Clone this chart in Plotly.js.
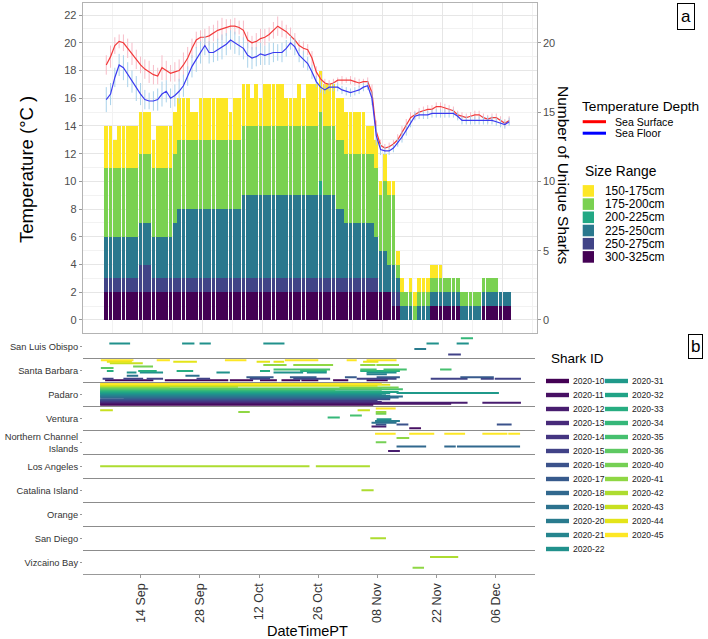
<!DOCTYPE html>
<html>
<head>
<meta charset="utf-8">
<script src="https://cdn.plot.ly/plotly-3.0.1.min.js"></script>
<style>
  html, body { margin: 0; padding: 0; background: #fff; }
  #chart { width: 708px; height: 639px; }
</style>
</head>
<body>
<div id="chart"></div>
<script>
// ---------- panel a: daily unique sharks by size class (Sep 5 .. Dec 8) ----------
const firstDay = "2020-09-05";
const sizeRanges = ["300-325cm", "250-275cm", "225-250cm", "200-225cm", "175-200cm", "150-175cm"];
const sizeColors = ["#440154", "#414487", "#2a788e", "#22a884", "#7ad151", "#fde725"];

const count300 = [2,2,2,2,2,2,2,2,2,2, 2,2,2,2,2,2,2,2,2,2, 2,2,2,2,2,2,2,2,2,2, 2,2,2,2,2,2,2,2,2,2,
                  2,2,2,2,2,2,2,2,2,2, 2,2,2,2,2,2,2,2,2,2, 2,2,2,2,2,2,2,1,1,0, 0,0,0,0,0,0,1,1,1,1,
                  1,1,1,0,0,0,0,0,1,1, 1,1,1,1,1];
const count250 = [1,1,1,1,1,1,1,1,2,2, 2,1,1,1,1,1,1,1,1,1, 1,1,1,1,1,1,1,1,1,1, 1,1,1,1,1,1,1,1,1,1,
                  1,1,1,1,1,1,1,1,1,1, 1,1,1,1,1,1,1,1,1,1, 1,1,1,1,0,0,0,1,1,0, 0,0,0,0,0,0,0,0,0,0,
                  0,0,0,0,0,0,0,0,0,0, 0,0,0,0,0];
const count225 = [3,3,3,3,3,3,3,3,3,3, 3,3,3,3,3,3,4,5,5,5, 5,5,5,5,5,5,5,5,5,5, 5,5,6,6,6,6,6,6,6,6,
                  6,6,6,6,6,6,6,6,6,6, 6,6,6,6,5,5,4,4,4,4, 4,4,4,3,3,3,2,2,1,1, 1,1,0,1,1,1,1,1,1,1,
                  1,1,1,1,1,1,1,1,1,1, 1,1,1,1,1];
const count200 = [0,0,0,0,0,0,0,0,0,0, 0,0,0,0,0,0,0,0,0,0, 0,0,0,0,0,0,0,0,0,0, 0,0,0,0,0,0,0,0,0,0,
                  0,0,0,0,0,0,0,0,0,0, 1,0,0,0,0,0,0,0,0,0, 0,0,0,0,0,0,0,0,0,0, 0,0,0,0,0,0,0,0,0,0,
                  0,0,0,0,0,0,0,0,0,0, 0,0,0,0,0];
const count175 = [5,5,5,5,5,5,5,5,5,5, 5,5,5,5,5,5,5,5,5,5, 5,5,5,5,5,5,5,5,5,5, 5,5,5,5,5,5,5,5,5,5,
                  5,5,5,5,5,5,5,5,5,5, 5,5,5,5,5,5,5,5,5,5, 5,5,5,5,4,5,5,5,1,1, 1,1,1,1,1,1,1,1,1,1,
                  1,1,1,1,1,1,1,1,1,1, 1,1,0,0,0];
const count150 = [3,3,2,3,3,3,3,3,3,3, 3,2,3,3,3,3,3,3,3,3, 2,2,3,3,3,3,3,3,3,2, 3,3,3,3,2,3,2,3,3,3,
                  3,3,2,2,2,3,2,3,3,3, 3,3,3,3,3,3,3,3,3,3, 3,2,2,2,1,2,1,1,1,1, 0,1,1,1,1,1,1,1,1,0,
                  0,0,0,0,0,0,0,0,0,0, 0,0,0,0,0];
const sizeCounts = [count300, count250, count225, count200, count175, count150];

// daily mean temperature and spread (deg C)
const tempSurface = [18.4,19.0,19.8,20.1,20.0,19.6,19.2,18.8,18.4,18.1, 17.9,17.7,17.6,18.2,18.0,17.8,17.9,18.0,18.4,18.9,
                     19.6,20.2,20.4,20.4,20.5,20.7,20.9,21.0,21.1,21.2, 21.2,21.1,20.9,20.2,20.0,20.1,20.3,20.4,20.6,20.9,
                     21.2,21.0,20.8,20.5,20.2,19.8,19.6,19.5,18.9,17.9, 17.4,17.1,17.0,17.1,17.3,17.3,17.3,17.3,17.2,17.1,
                     17.2,17.2,16.4,13.6,12.6,12.4,12.5,12.7,13.0,13.5, 14.1,14.6,14.8,15.0,15.1,15.2,15.2,15.4,15.4,15.3,
                     15.2,15.1,14.8,14.7,14.6,14.7,14.8,14.8,14.6,14.5, 14.6,14.6,14.4,14.2,14.4];
const tempFloor = [15.9,16.3,17.5,18.4,18.2,17.7,17.2,16.7,16.3,15.9, 15.8,15.8,15.9,16.3,16.5,16.0,16.2,16.5,16.9,17.6,
                   18.3,18.8,19.3,19.8,19.3,19.3,19.5,19.7,19.9,20.2, 20.0,19.8,19.6,19.1,18.9,19.0,19.2,19.1,19.2,19.3,
                   19.3,19.3,19.6,20.0,19.7,19.1,18.8,18.5,17.9,17.2, 16.8,16.6,16.8,16.8,16.8,16.6,16.5,16.4,16.5,16.6,
                   16.8,16.9,16.0,13.3,12.3,12.2,12.2,12.4,12.8,13.2, 13.7,14.2,14.7,14.8,14.8,14.8,14.9,14.9,14.9,14.9,
                   14.9,14.9,14.7,14.4,14.4,14.4,14.4,14.4,14.4,14.4, 14.4,14.3,14.2,14.1,14.3];
const sdSurface = [.7,.8,.6,.5,.6,.7,.8,.7,.6,.7, .8,.7,.6,.9,.7,.6,.7,.8,.9,.8, .7,.6,.5,.6,.7,.6,.7,.8,.6,.5,
                   .6,.5,.7,.6,.5,.6,.7,.6,.5,.6, .7,.6,.5,.6,.5,.4,.5,.4,.5,.4, .3,.3,.3,.3,.2,.3,.2,.3,.3,.3,
                   .2,.3,.6,.8,.4,.3,.3,.3,.4,.5, .4,.4,.3,.3,.3,.3,.3,.3,.3,.3, .3,.3,.3,.3,.3,.3,.3,.3,.3,.3, .3,.3,.3,.3,.3];
const sdFloor = [.9,.8,.7,.8,.9,.9,.8,.9,.8,.7, .6,.7,.8,.9,.8,.7,.8,.9,.8,.7, .8,.9,.8,.7,.8,.7,.8,.9,.8,.7,
                 .8,.7,.8,.9,.8,.7,.8,.7,.8,.7, .6,.7,.6,.5,.6,.5,.6,.5,.5,.4, .4,.3,.3,.3,.3,.3,.3,.3,.3,.3,
                 .3,.3,.5,.7,.4,.3,.3,.3,.3,.4, .4,.3,.3,.3,.3,.3,.3,.3,.3,.3, .3,.3,.3,.3,.3,.3,.3,.3,.3,.3, .3,.3,.3,.3,.3];

// ---------- panel b: detections by location ----------
const locations = ["San Luis Obispo", "Santa Barbara", "Padaro", "Ventura", "Northern Channel Islands",
                   "Los Angeles", "Catalina Island", "Orange", "San Diego", "Vizcaino Bay"];
const locationLabels = ["San Luis Obispo", "Santa Barbara", "Padaro", "Ventura", "Northern Channel<br>Islands",
                        "Los Angeles", "Catalina Island", "Orange", "San Diego", "Vizcaino Bay"];
const sharkIds = ["2020-10","2020-11","2020-12","2020-13","2020-14","2020-15","2020-16","2020-17","2020-18",
                  "2020-19","2020-20","2020-21","2020-22","2020-31","2020-32","2020-33","2020-34","2020-35",
                  "2020-36","2020-40","2020-41","2020-42","2020-43","2020-44","2020-45"];
const sharkColors = ["#440154","#471063","#481d6f","#472a7a","#453581","#414287","#3b528b","#375a8c","#31688e",
                     "#2c728e","#297b8e","#25858e","#21918c","#1f998a","#20a386","#27ad81","#35b779","#46c06f",
                     "#5ec962","#75d054","#8fd744","#addc30","#c8e020","#e4e419","#fde725"];

// [shark, location, first, last]
const tracks = [
  ["2020-22","San Luis Obispo","2020-09-06 14","2020-09-11 12"], ["2020-22","San Luis Obispo","2020-09-23 19","2020-09-26 17"],
  ["2020-22","San Luis Obispo","2020-09-27 22","2020-09-30 14"], ["2020-22","San Luis Obispo","2020-10-13 00","2020-10-18 00"],
  ["2020-22","San Luis Obispo","2020-11-20 14","2020-11-23 12"], ["2020-22","San Luis Obispo","2020-11-27 17","2020-11-30 14"],
  ["2020-20","San Luis Obispo","2020-11-17 17","2020-11-20 12"], ["2020-34","San Luis Obispo","2020-11-28 17","2020-12-01 14"],
  ["2020-15","San Luis Obispo","2020-11-25 17","2020-11-28 17"],

  ["2020-45","Santa Barbara","2020-09-04 14","2020-09-12 07"], ["2020-45","Santa Barbara","2020-09-17 19","2020-09-20 22"],
  ["2020-45","Santa Barbara","2020-10-03 22","2020-10-09 00"], ["2020-45","Santa Barbara","2020-10-18 02","2020-10-26 00"],
  ["2020-45","Santa Barbara","2020-11-01 17","2020-11-04 02"], ["2020-45","Santa Barbara","2020-11-06 10","2020-11-13 12"],
  ["2020-44","Santa Barbara","2020-09-06 00","2020-09-11 22"], ["2020-44","Santa Barbara","2020-09-21 17","2020-09-27 07"],
  ["2020-44","Santa Barbara","2020-10-11 10","2020-10-14 14"], ["2020-44","Santa Barbara","2020-10-15 10","2020-10-17 22"],
  ["2020-44","Santa Barbara","2020-11-05 14","2020-11-09 05"],
  ["2020-43","Santa Barbara","2020-09-06 17","2020-09-14 12"],
  ["2020-41","Santa Barbara","2020-10-13 00","2020-10-18 12"], ["2020-41","Santa Barbara","2020-10-20 02","2020-10-29 12"],
  ["2020-41","Santa Barbara","2020-11-04 22","2020-11-08 12"], ["2020-41","Santa Barbara","2020-11-08 18","2020-11-14 02"],
  ["2020-40","Santa Barbara","2020-09-12 05","2020-09-16 22"],
  ["2020-36","Santa Barbara","2020-09-04 14","2020-09-07 14"],
  ["2020-35","Santa Barbara","2020-10-15 10","2020-10-28 19"], ["2020-35","Santa Barbara","2020-11-04 22","2020-11-08 19"],
  ["2020-35","Santa Barbara","2020-11-10 10","2020-11-15 22"], ["2020-35","Santa Barbara","2020-11-23 19","2020-11-26 12"],
  ["2020-33","Santa Barbara","2020-09-06 00","2020-09-07 14"], ["2020-33","Santa Barbara","2020-09-13 10","2020-09-17 19"],
  ["2020-33","Santa Barbara","2020-09-22 12","2020-09-26 10"], ["2020-33","Santa Barbara","2020-10-12 05","2020-10-14 14"],
  ["2020-33","Santa Barbara","2020-10-21 17","2020-10-28 00"], ["2020-33","Santa Barbara","2020-11-04 22","2020-11-14 07"],
  ["2020-22","Santa Barbara","2020-09-10 17","2020-09-13 00"], ["2020-22","Santa Barbara","2020-09-13 19","2020-09-19 07"],
  ["2020-22","Santa Barbara","2020-10-01 22","2020-10-05 02"], ["2020-22","Santa Barbara","2020-10-15 10","2020-10-22 10"],
  ["2020-22","Santa Barbara","2020-10-23 07","2020-10-28 00"], ["2020-22","Santa Barbara","2020-11-06 10","2020-11-13 12"],
  ["2020-20","Santa Barbara","2020-11-06 10","2020-11-11 05"],
  ["2020-19","Santa Barbara","2020-09-10 17","2020-09-13 10"], ["2020-19","Santa Barbara","2020-09-24 14","2020-09-27 22"],
  ["2020-17","Santa Barbara","2020-10-09 00","2020-10-15 10"], ["2020-17","Santa Barbara","2020-10-19 07","2020-10-25 14"],
  ["2020-17","Santa Barbara","2020-11-01 07","2020-11-04 02"], ["2020-17","Santa Barbara","2020-11-08 19","2020-11-14 07"],
  ["2020-17","Santa Barbara","2020-11-28 14","2020-12-06 12"],
  ["2020-15","Santa Barbara","2020-09-05 00","2020-09-07 14"], ["2020-15","Santa Barbara","2020-09-09 22","2020-09-14 14"],
  ["2020-15","Santa Barbara","2020-09-15 10","2020-09-19 07"], ["2020-15","Santa Barbara","2020-09-27 05","2020-09-30 10"],
  ["2020-15","Santa Barbara","2020-10-09 19","2020-10-14 14"], ["2020-15","Santa Barbara","2020-10-20 02","2020-10-28 19"],
  ["2020-15","Santa Barbara","2020-11-04 02","2020-11-13 12"], ["2020-15","Santa Barbara","2020-11-21 14","2020-11-30 07"],
  ["2020-15","Santa Barbara","2020-12-03 10","2020-12-06 12"], ["2020-15","Santa Barbara","2020-12-06 17","2020-12-12 22"],
  ["2020-10","Santa Barbara","2020-09-05 14","2020-09-17 00"], ["2020-10","Santa Barbara","2020-09-19 17","2020-10-04 17"],
  ["2020-10","Santa Barbara","2020-10-05 02","2020-10-10 14"], ["2020-10","Santa Barbara","2020-10-12 05","2020-10-16 05"],
  ["2020-10","Santa Barbara","2020-10-17 07","2020-10-21 17"], ["2020-10","Santa Barbara","2020-10-22 00","2020-10-26 00"],
  ["2020-10","Santa Barbara","2020-10-29 12","2020-11-02 02"], ["2020-10","Santa Barbara","2020-11-06 10","2020-11-11 10"],

  ["2020-10","Padaro","2020-09-04 10","2020-11-08 00"], ["2020-11","Padaro","2020-09-04 10","2020-11-26 10"],
  ["2020-12","Padaro","2020-09-04 10","2020-11-30 07"], ["2020-12","Padaro","2020-12-03 19","2020-12-12 22"],
  ["2020-13","Padaro","2020-09-04 10","2020-11-10 00"], ["2020-14","Padaro","2020-09-04 10","2020-11-09 00"],
  ["2020-15","Padaro","2020-09-04 10","2020-10-20 00"], ["2020-16","Padaro","2020-09-04 10","2020-11-12 00"],
  ["2020-17","Padaro","2020-09-10 00","2020-11-12 00"], ["2020-18","Padaro","2020-09-04 10","2020-11-14 00"],
  ["2020-19","Padaro","2020-09-04 10","2020-11-15 00"], ["2020-20","Padaro","2020-09-04 10","2020-11-12 00"],
  ["2020-21","Padaro","2020-09-04 10","2020-11-10 00"], ["2020-22","Padaro","2020-09-04 10","2020-11-11 00"],
  ["2020-31","Padaro","2020-09-04 10","2020-11-12 00"], ["2020-31","Padaro","2020-11-13 12","2020-12-07 17"],
  ["2020-32","Padaro","2020-09-04 10","2020-11-14 00"], ["2020-33","Padaro","2020-09-04 10","2020-11-10 00"],
  ["2020-34","Padaro","2020-09-04 10","2020-10-30 00"], ["2020-35","Padaro","2020-09-04 10","2020-11-15 00"],
  ["2020-36","Padaro","2020-09-04 10","2020-11-10 00"], ["2020-40","Padaro","2020-09-04 10","2020-09-20 22"],
  ["2020-40","Padaro","2020-10-31 00","2020-11-14 00"], ["2020-41","Padaro","2020-09-04 10","2020-10-07 00"],
  ["2020-43","Padaro","2020-09-04 10","2020-11-09 00"], ["2020-44","Padaro","2020-09-04 10","2020-11-12 00"],
  ["2020-45","Padaro","2020-09-04 10","2020-11-10 00"],

  ["2020-43","Ventura","2020-09-04 10","2020-09-07 10"], ["2020-43","Ventura","2020-11-04 07","2020-11-07 05"],
  ["2020-45","Ventura","2020-11-08 14","2020-11-13 07"], ["2020-41","Ventura","2020-10-07 02","2020-10-09 19"],
  ["2020-41","Ventura","2020-11-08 14","2020-11-11 02"], ["2020-40","Ventura","2020-11-08 14","2020-11-11 02"],
  ["2020-34","Ventura","2020-10-28 05","2020-10-31 02"], ["2020-35","Ventura","2020-11-02 12","2020-11-05 07"],
  ["2020-22","Ventura","2020-11-08 19","2020-11-12 07"], ["2020-20","Ventura","2020-11-08 10","2020-11-14 07"],
  ["2020-19","Ventura","2020-11-07 14","2020-11-13 12"], ["2020-16","Ventura","2020-11-08 14","2020-11-11 02"],
  ["2020-16","Ventura","2020-11-13 12","2020-11-16 07"], ["2020-16","Ventura","2020-12-07 05","2020-12-10 17"],
  ["2020-12","Ventura","2020-11-07 14","2020-11-11 02"], ["2020-11","Ventura","2020-11-16 12","2020-11-19 07"],

  ["2020-45","Northern Channel Islands","2020-11-08 10","2020-11-13 07"], ["2020-45","Northern Channel Islands","2020-11-16 12","2020-11-22 10"],
  ["2020-45","Northern Channel Islands","2020-11-24 19","2020-11-29 17"], ["2020-45","Northern Channel Islands","2020-12-03 19","2020-12-09 17"],
  ["2020-45","Northern Channel Islands","2020-12-09 22","2020-12-12 17"], ["2020-41","Northern Channel Islands","2020-11-13 12","2020-11-16 12"],
  ["2020-40","Northern Channel Islands","2020-11-08 14","2020-11-11 02"], ["2020-18","Northern Channel Islands","2020-11-13 12","2020-11-20 12"],
  ["2020-18","Northern Channel Islands","2020-11-24 19","2020-11-27 12"], ["2020-18","Northern Channel Islands","2020-11-27 19","2020-12-12 17"],
  ["2020-12","Northern Channel Islands","2020-11-11 12","2020-11-14 07"],

  ["2020-42","Los Angeles","2020-09-04 10","2020-10-23 22"], ["2020-42","Los Angeles","2020-10-25 10","2020-11-07 05"],
  ["2020-42","Catalina Island","2020-11-05 05","2020-11-08 02"],
  ["2020-42","San Diego","2020-11-07 07","2020-11-11 00"],
  ["2020-41","Vizcaino Bay","2020-11-17 07","2020-11-20 00"], ["2020-42","Vizcaino Bay","2020-11-21 10","2020-11-28 02"]
];

const dateTickVals = ["2020-09-14","2020-09-28","2020-10-12","2020-10-26","2020-11-08 23","2020-11-22 23","2020-12-06 23"];
const dateTickText = ["14 Sep","28 Sep","12 Oct","26 Oct","08 Nov","22 Nov","06 Dec"];

// ---------- build ----------
const DAY = 86400000;
const days = count300.map((_, i) => {
  const d = new Date(Date.parse(firstDay + "T00:00:00Z") + i * DAY);
  return d.toISOString().slice(0, 10);
});

const FONT = "Liberation Sans, Arial, sans-serif";
const W = 708, H = 639;
const px = v => v / W;
const py = v => 1 - v / H;

const traces = [];

sizeRanges.forEach((name, k) => {
  traces.push({
    type: "bar", name: name, x: days, y: sizeCounts[k],
    xperiod: DAY, xperiodalignment: "middle",
    marker: { color: sizeColors[k], line: { width: 0 } },
    xaxis: "x", yaxis: "y", showlegend: false, hoverinfo: "skip"
  });
});

const tempSeries = [
  { name: "Sea Surface", y: tempSurface, sd: sdSurface, line: "#f23b3b", bar: "#f7bcc8" },
  { name: "Sea Floor", y: tempFloor, sd: sdFloor, line: "#3b3bf0", bar: "#a9d2ea" }
];
tempSeries.forEach(s => {
  traces.push({
    type: "scatter", mode: "lines", name: s.name, x: days, y: s.y,
    xperiod: DAY, xperiodalignment: "middle",
    line: { color: s.line, width: 1.2 },
    error_y: { type: "data", array: s.sd, visible: true, color: s.bar, thickness: 1, width: 0 },
    xaxis: "x", yaxis: "y3", showlegend: false, hoverinfo: "skip"
  });
});

// sharks present at a location share the row, highest id on top
const laneOf = {};
locations.forEach((loc, li) => {
  const present = sharkIds.filter(id => tracks.some(t => t[0] === id && t[1] === loc));
  const n = present.length;
  present.forEach((id, k) => { laneOf[id + "|" + loc] = li - (k - (n - 1) / 2) * 0.9 / n; });
});

sharkIds.forEach((id, si) => {
  const xs = [], ys = [];
  tracks.filter(t => t[0] === id).forEach(t => {
    const lane = laneOf[id + "|" + t[1]];
    xs.push(t[2], t[3], null);
    ys.push(lane, lane, null);
  });
  traces.push({
    type: "scatter", mode: "lines", name: id, x: xs, y: ys,
    line: { color: sharkColors[si], width: 2 },
    xaxis: "x2", yaxis: "y2", showlegend: false, hoverinfo: "skip", connectgaps: false
  });
});

// ---------- hand-drawn legends ----------
const shapes = [];
const annotations = [];
const txt = (x, y, text, size, extra) => annotations.push(Object.assign({
  xref: "paper", yref: "paper", x: px(x), y: py(y), text: text, showarrow: false,
  xanchor: "left", yanchor: "middle", font: { family: FONT, size: size, color: "#000" }
}, extra || {}));

txt(580, 106.7, "Temperature Depth", 13.7);
tempSeries.forEach((s, k) => {
  const yy = 121.7 + k * 11.5;
  shapes.push({ type: "line", xref: "paper", yref: "paper", x0: px(582.7), x1: px(606), y0: py(yy), y1: py(yy),
                line: { color: k === 0 ? "#ff0000" : "#0000ff", width: 3 } });
  txt(612.7, yy, s.name, 10.6);
});

txt(583, 171.7, "Size Range", 13.8);
sizeRanges.slice().reverse().forEach((name, k) => {
  const yy = 190.9 + k * 13.2;
  const col = sizeColors[sizeRanges.length - 1 - k];
  shapes.push({ type: "rect", xref: "paper", yref: "paper", x0: px(582.7), x1: px(594), y0: py(yy - 5.8), y1: py(yy + 5.8),
                fillcolor: col, line: { width: 0 } });
  txt(603, yy, name, 11.9);
});

txt(549, 358.3, "Shark ID", 13.5);
sharkIds.forEach((id, k) => {
  const col = k < 13 ? 0 : 1;
  const row = k < 13 ? k : k - 13;
  const x0 = col === 0 ? 546 : 605;
  const yy = 381 + row * 14;
  shapes.push({ type: "rect", xref: "paper", yref: "paper", x0: px(x0), x1: px(x0 + 23), y0: py(yy - 2.2), y1: py(yy + 2.2),
                fillcolor: sharkColors[k], line: { width: 0 } });
  txt(x0 + 25, yy, id, 8.6, { font: { family: FONT, size: 8.6, color: "#222" } });
});

// axis titles and panel tags
txt(26, 170, "Temperature (°C )", 18.5, { xanchor: "center", textangle: -90 });
txt(563, 175, "Number of Unique Sharks", 15.5, { xanchor: "center", textangle: 90 });
txt(307, 631, "DateTimePT", 14.5, { xanchor: "center" });
txt(685.5, 16, "a", 17, { xanchor: "center", bordercolor: "#000", borderwidth: 1, borderpad: 3, bgcolor: "#fff" });
txt(695, 347, "b", 17, { xanchor: "center", bordercolor: "#000", borderwidth: 1, borderpad: 2, bgcolor: "#fff" });

const tickFont = { family: FONT, size: 11, color: "#4d4d4d" };
const yRange = [-0.96, 22.87];

const layout = {
  width: W, height: H,
  margin: { l: 0, r: 0, t: 0, b: 0, pad: 0 },
  paper_bgcolor: "#fff", plot_bgcolor: "rgba(0,0,0,0)",
  barmode: "stack", bargap: 0.12,
  showlegend: false,
  font: { family: FONT },
  xaxis: {
    domain: [px(82.7), px(536.7)], anchor: "y", type: "date",
    range: ["2020-08-31 00:00", "2020-12-14 22:20"],
    tick0: "2020-09-14", dtick: 14 * DAY, showticklabels: false, ticks: "",
    showgrid: true, gridcolor: "#e6e6e6", gridwidth: 1,
    minor: { dtick: 7 * DAY, tick0: "2020-09-14", showgrid: true, gridcolor: "#f2f2f2" },
    showline: true, mirror: true, linecolor: "#b3b3b3", linewidth: 1, zeroline: false
  },
  yaxis: {
    domain: [py(333.3), py(3)], anchor: "x", side: "right", range: yRange,
    tickvals: [0, 5, 10, 15, 20], ticks: "outside", ticklen: 3, tickcolor: "#999",
    tickfont: tickFont, showgrid: false, zeroline: false,
    showline: true, linecolor: "#b3b3b3", linewidth: 1
  },
  yaxis3: {
    overlaying: "y", anchor: "x", side: "left", range: yRange,
    dtick: 2, tick0: 0, ticks: "outside", ticklen: 3, tickcolor: "#999",
    tickfont: tickFont, showgrid: true, gridcolor: "#e6e6e6",
    minor: { dtick: 1, tick0: 0, showgrid: true, gridcolor: "#f2f2f2" },
    zeroline: false, showline: true, linecolor: "#b3b3b3", linewidth: 1
  },
  xaxis2: {
    domain: [px(83), px(535)], anchor: "y2", type: "date",
    range: ["2020-08-31 08:40", "2020-12-16 05:45"],
    tickmode: "array", tickvals: dateTickVals, ticktext: dateTickText, tickangle: -90,
    ticks: "outside", ticklen: 3, tickcolor: "#999",
    tickfont: { family: FONT, size: 12.5, color: "#333" },
    showgrid: false, zeroline: false, showline: true, linecolor: "#999", linewidth: 1
  },
  yaxis2: {
    domain: [py(574.3), py(334.3)], anchor: "x2", range: [9.5, -0.5],
    tickmode: "array", tickvals: locations.map((_, i) => i), ticktext: locationLabels,
    ticks: "outside", ticklen: 2, tickcolor: "#999",
    tickfont: { family: FONT, size: 9.3, color: "#333" },
    showgrid: false, zeroline: false, showline: false,
    minor: { tick0: 0.5, dtick: 1, showgrid: true, gridcolor: "#8c8c8c", gridwidth: 1, ticks: "" }
  },
  shapes: shapes,
  annotations: annotations
};

Plotly.newPlot("chart", traces, layout, { displayModeBar: false, staticPlot: true });
</script>
</body>
</html>
